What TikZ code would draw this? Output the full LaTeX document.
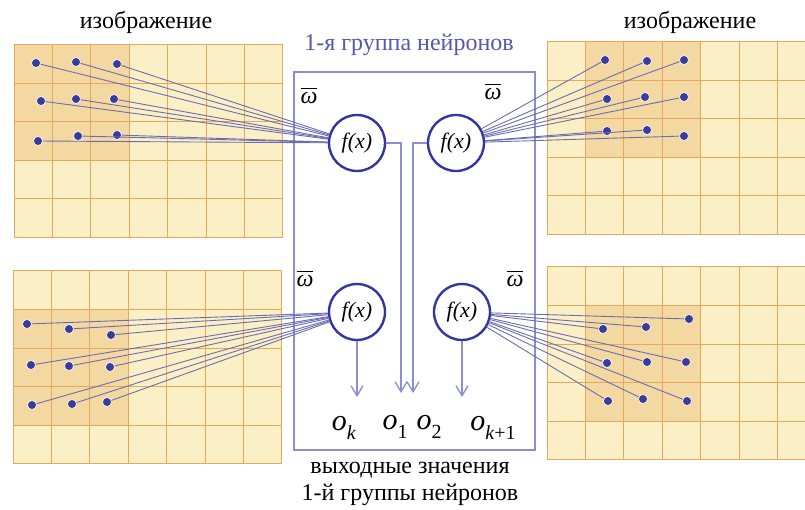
\documentclass[tikz,border=0pt]{standalone}
\usepackage{fontspec}
\setmainfont{Liberation Serif}
\usetikzlibrary{arrows.meta}
\definecolor{cellfill}{HTML}{FBEFC6}
\definecolor{cellhi}{HTML}{F3D8A2}
\definecolor{cellline}{HTML}{E6A85C}
\definecolor{dotblue}{HTML}{3A3C9C}
\definecolor{nrnblue}{HTML}{3336A0}
\definecolor{boxblue}{HTML}{8B8ED2}
\definecolor{wireblue}{HTML}{6B6DB2}
\definecolor{lblblue}{HTML}{5557B0}
\newcommand{\osub}[1]{\textit{o}\raisebox{-0.28em}{\fontsize{20}{20}\selectfont #1}}
\newcommand{\wbar}{$\overline{\hbox{ω}\rule{0pt}{14pt}}$}

\begin{document}
\begin{tikzpicture}[x=1pt,y=-1pt,
 gl/.style={cellline,line width=1pt},
 px/.style={circle,fill=dotblue,draw=white,line width=0.6pt,inner sep=0pt,minimum size=9pt},
 nrn/.style={circle,draw=nrnblue,line width=2.4pt,fill=white,minimum size=56pt,inner sep=0pt,font=\fontsize{22}{24}\selectfont\itshape},
 wire/.style={wireblue,line width=0.9pt},
 flow/.style={boxblue,line width=1.3pt,-{Straight Barb[length=10pt,width=12pt]}},
 grpbox/.style={draw=boxblue,line width=1.3pt,inner sep=0pt},
 txt/.style={font=\fontsize{24}{27}\selectfont,align=center},
 wlb/.style={font=\fontsize{24}{27}\selectfont\itshape},
 olb/.style={font=\fontsize{30}{32}\selectfont,inner sep=0pt}]
\useasboundingbox (0,0) rectangle (805,510);
\fill[white] (0,0) rectangle (805,510);
\begin{scope}
\clip (0,0) rectangle (805,510);
\foreach \gx/\gy/\hc/\hr in {14/45/0/0, 547/42/1/0, 13/271/0/1, 547/267/1/1} {
  \fill[cellfill] (\gx,\gy) rectangle ++(268.8,192.5);
  \fill[cellhi] (\gx+\hc*38.4,\gy+\hr*38.5) rectangle ++(115.2,115.5);
  \foreach \i in {0,...,7} \draw[gl] (\gx+\i*38.4,\gy) -- ++(0,192.5);
  \foreach \j in {0,...,5} \draw[gl] (\gx,\gy+\j*38.5) -- ++(268.8,0);
}
\end{scope}
\node[txt] (img1) at (146,22) {изображение};
\node[txt] (img2) at (690,22) {изображение};
\node[grpbox,minimum width=241pt,minimum height=378pt] (grp) at (414.5,261) {};
\node[txt,text=lblblue] (grpl) at (409,45) {1-я группа нейронов};
\node[nrn] (nTL) at (357,143) {f(x)};
\node[nrn] (nTR) at (456,143) {f(x)};
\node[nrn] (nBL) at (357,312) {f(x)};
\node[nrn] (nBR) at (462,312) {f(x)};
\node[wlb] (w1) at (309,96) {\wbar};
\node[wlb] (w2) at (493,92) {\wbar};
\node[wlb] (w3) at (305,279) {\wbar};
\node[wlb] (w4) at (515,279) {\wbar};
\foreach \p [count=\k] in {(36,63),(76,62),(117,64),(41,101),(76,99),(114,99),(38,141),(78,136),(117,135)}
  \node[px] (a\k) at \p {};
\foreach \p [count=\k] in {(605,60),(647,61),(684,60),(607,99),(645,97),(684,97),(607,131),(647,130),(684,136)}
  \node[px] (b\k) at \p {};
\foreach \p [count=\k] in {(27,324),(69,329),(111,335),(31,365),(69,366),(110,367),(32,405),(72,404),(107,402)}
  \node[px] (c\k) at \p {};
\foreach \p [count=\k] in {(689,319),(603,329),(646,327),(607,363),(647,362),(686,362),(608,401),(643,399),(687,401)}
  \node[px] (d\k) at \p {};
\foreach \k in {1,...,9} {
  \draw[wire] (a\k) -- (nTL);
  \draw[wire] (b\k) -- (nTR);
  \draw[wire] (c\k) -- (nBL);
  \draw[wire] (d\k) -- (nBR);
}
\coordinate (e1) at (401,393);
\coordinate (e2) at (413,393);
\coordinate (e3) at (357,397);
\coordinate (e4) at (462,397);
\draw[flow] (nTL.east) -| (e1);
\draw[flow] (nTR.west) -| (e2);
\draw[flow] (nBL) -- (e3);
\draw[flow] (nBR) -- (e4);
\node[olb] (ok) at (344,428) {\osub{\textit{k}}};
\node[olb] (o1) at (395,427) {\osub{1}};
\node[olb] (o2) at (429,427) {\osub{2}};
\node[olb] (okk) at (493,428) {\osub{\textit{k}+1}};
\node[txt] (outl) at (410,484) {выходные значения\\1-й группы нейронов};
\end{tikzpicture}
\end{document}
